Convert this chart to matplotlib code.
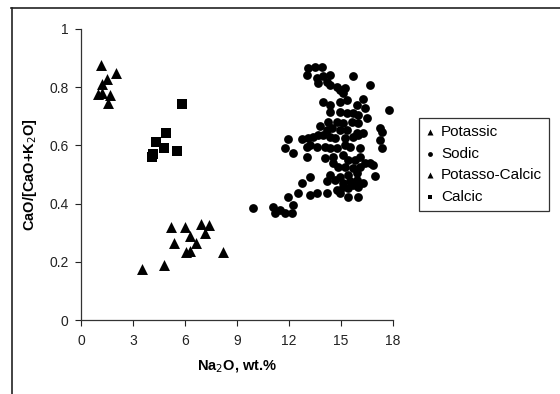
import matplotlib
matplotlib.use("Agg")
import matplotlib.pyplot as plt
from matplotlib.lines import Line2D

plt.rcParams['font.family'] = ['Liberation Sans', 'DejaVu Sans']

# ---- data ----
potassic_x = [1.15, 2.02, 1.50, 1.21, 0.98, 1.21, 1.67, 1.56]
potassic_y = [0.876, 0.849, 0.828, 0.811, 0.777, 0.780, 0.773, 0.746]

calcic_x = [5.83, 4.90, 4.33, 4.79, 5.54, 4.15, 4.10]
calcic_y = [0.742, 0.643, 0.612, 0.591, 0.581, 0.570, 0.560]

pc_x = [5.19, 6.00, 6.90, 7.40, 7.16, 6.29, 5.37, 6.64, 6.06, 6.29, 8.19, 4.79, 3.52]
pc_y = [0.320, 0.320, 0.330, 0.325, 0.299, 0.289, 0.265, 0.265, 0.234, 0.237, 0.234, 0.189, 0.175]

sodic_x = [13.12, 13.50, 13.89, 13.06, 13.60, 13.98, 14.37, 15.72, 13.70, 14.18,
           14.37, 14.75, 14.95, 15.14, 15.23, 16.68, 13.98, 14.37, 14.95, 15.33,
           15.91, 16.25, 16.39, 17.79, 14.37, 14.95, 15.33, 15.72, 16.00, 16.48,
           14.27, 14.75, 15.14, 15.62, 16.00, 13.79, 14.18, 14.47, 14.95, 15.33,
           15.91, 16.29, 17.25, 17.35, 11.97, 12.73, 13.12, 13.41, 13.70, 13.98,
           14.37, 14.66, 15.23, 15.72, 16.00, 17.25, 11.77, 12.25, 13.02, 13.22,
           13.60, 14.08, 14.37, 14.75, 15.23, 15.52, 16.10, 17.35, 13.02, 14.08,
           14.56, 15.14, 15.43, 15.81, 16.10, 14.56, 14.85, 15.23, 15.72, 16.10,
           16.39, 16.68, 16.87, 15.91, 16.97, 13.22, 14.37, 14.95, 15.43, 14.18,
           14.66, 15.14, 15.52, 15.91, 16.29, 12.73, 12.54, 13.22, 13.60, 14.18,
           14.75, 15.14, 15.43, 15.72, 16.00, 14.95, 15.43, 16.00, 11.97, 12.25,
           9.95, 11.10, 11.20, 11.48, 11.77, 12.16]
sodic_y = [0.865, 0.868, 0.868, 0.842, 0.831, 0.839, 0.842, 0.839, 0.813, 0.819,
           0.808, 0.802, 0.791, 0.779, 0.796, 0.808, 0.750, 0.739, 0.750, 0.756,
           0.739, 0.758, 0.728, 0.722, 0.716, 0.716, 0.710, 0.710, 0.705, 0.693,
           0.682, 0.682, 0.676, 0.682, 0.676, 0.665, 0.653, 0.659, 0.653, 0.653,
           0.642, 0.642, 0.659, 0.647, 0.621, 0.621, 0.624, 0.630, 0.636, 0.636,
           0.630, 0.624, 0.624, 0.630, 0.636, 0.619, 0.590, 0.573, 0.596, 0.602,
           0.596, 0.596, 0.590, 0.590, 0.602, 0.596, 0.590, 0.590, 0.561, 0.556,
           0.561, 0.567, 0.550, 0.550, 0.561, 0.539, 0.527, 0.527, 0.521, 0.527,
           0.539, 0.539, 0.533, 0.504, 0.495, 0.493, 0.498, 0.493, 0.498, 0.476,
           0.481, 0.470, 0.476, 0.481, 0.470, 0.470, 0.435, 0.430, 0.435, 0.435,
           0.447, 0.458, 0.453, 0.464, 0.458, 0.435, 0.424, 0.424, 0.424, 0.395,
           0.384, 0.390, 0.367, 0.378, 0.367, 0.369]

x_ticks = [0, 3, 6, 9, 12, 15, 18]
y_ticks = [0, 0.2, 0.4, 0.6, 0.8, 1]
y_tick_labels = ['0', '0.2', '0.4', '0.6', '0.8', '1']

# ---- figure ----
fig = plt.figure(figsize=(5.6, 3.94), dpi=100)
ax = fig.add_axes([81/560, 1 - 320/394, (393 - 81)/560, (320 - 29)/394])

ax.scatter(potassic_x, potassic_y, marker='^', s=62, c='black', linewidths=0, label='Potassic', zorder=3)
ax.scatter(sodic_x, sodic_y, marker='o', s=40, c='black', linewidths=0, label='Sodic', zorder=3)
ax.scatter(pc_x, pc_y, marker='^', s=62, c='black', linewidths=0, label='Potasso-Calcic', zorder=3)
ax.scatter(calcic_x, calcic_y, marker='s', s=42, c='black', linewidths=0, label='Calcic', zorder=3)

ax.set_xlim(0, 18)
ax.set_ylim(0, 1)
ax.set_xticks(x_ticks)
ax.set_xticklabels([str(t) for t in x_ticks])
ax.set_yticks(y_ticks)
ax.set_yticklabels(y_tick_labels)
ax.tick_params(direction='out', length=4, width=0.8, colors='#222222', labelsize=10, pad=5)
ax.tick_params(axis='x', pad=6)
for side in ['top', 'right']:
    ax.spines[side].set_visible(False)
for side in ['left', 'bottom']:
    ax.spines[side].set_color('#333333')
    ax.spines[side].set_linewidth(0.9)

ax.set_xlabel('Na$_2$O, wt.%', fontsize=10.5, fontweight='bold', labelpad=8)
ax.set_ylabel('CaO/[CaO+K$_2$O]', fontsize=10.5, fontweight='bold', labelpad=7)

leg = ax.legend(loc='upper left', bbox_to_anchor=(419/560, 1 - 118/394), bbox_transform=fig.transFigure,
                fontsize=11, frameon=True, fancybox=False, edgecolor='black', borderaxespad=0,
                handlelength=0.6, handletextpad=0.4, labelspacing=0.5, borderpad=0.45,
                markerscale=0.55, scatterpoints=1)
leg.get_frame().set_linewidth(0.9)

# outer chart-area border (top and left edges visible)
fig.add_artist(Line2D([11/560, 1.0], [1 - 7.5/394, 1 - 7.5/394], transform=fig.transFigure, color='#222222', lw=1.2))
fig.add_artist(Line2D([11.5/560, 11.5/560], [0, 1 - 7.5/394], transform=fig.transFigure, color='#222222', lw=1.2))

fig.savefig('out.png', dpi=100)
